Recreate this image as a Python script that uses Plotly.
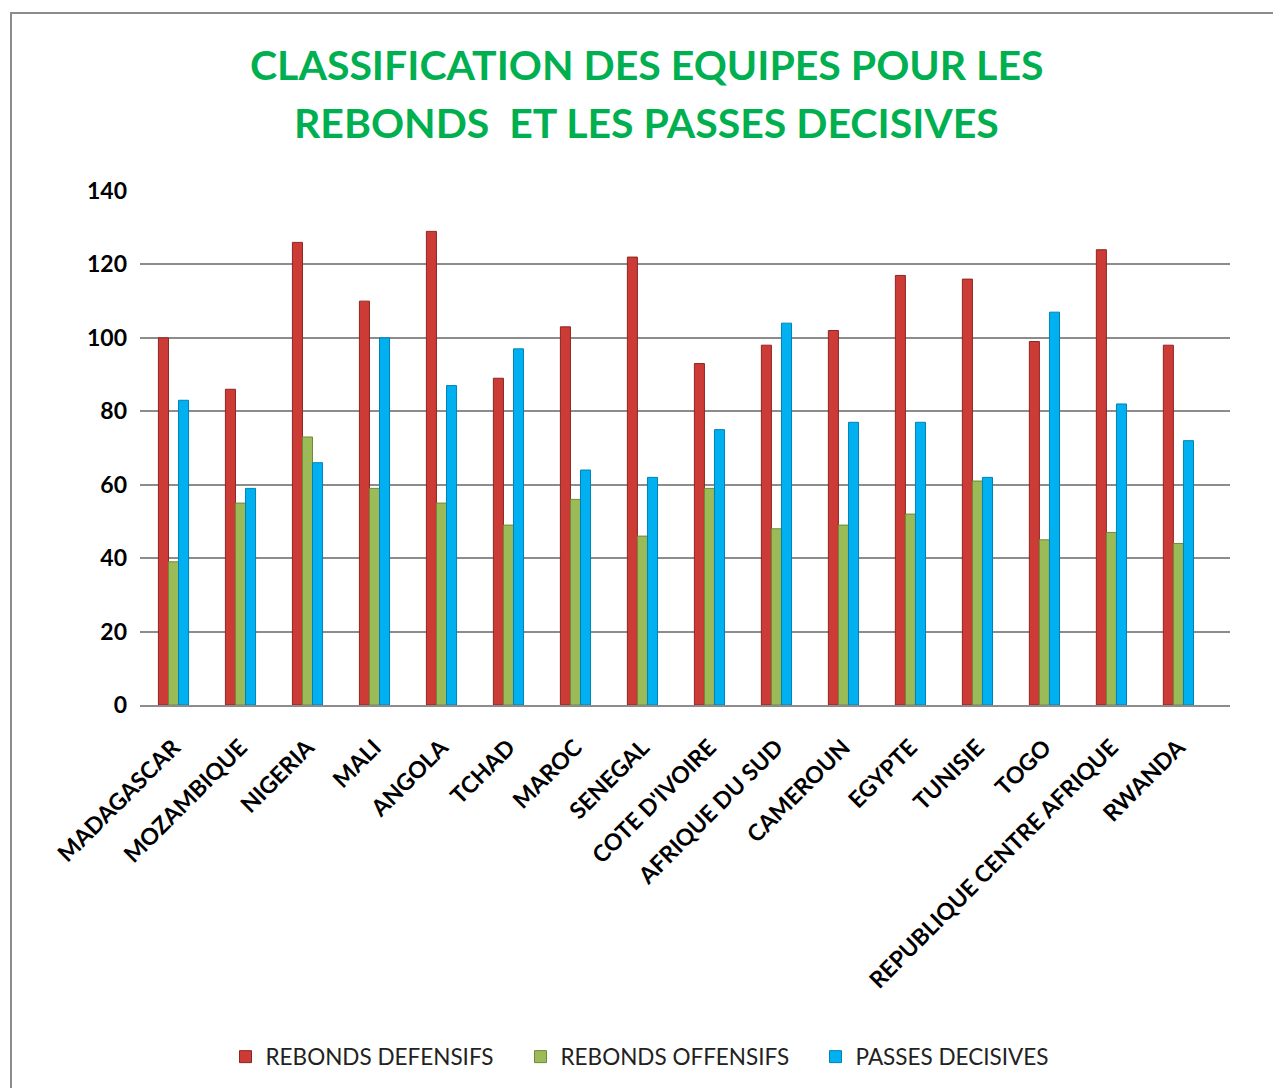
import plotly.graph_objects as go

countries = ["MADAGASCAR", "MOZAMBIQUE", "NIGERIA", "MALI", "ANGOLA", "TCHAD", "MAROC",
             "SENEGAL", "COTE D'IVOIRE", "AFRIQUE DU SUD", "CAMEROUN", "EGYPTE", "TUNISIE",
             "TOGO", "REPUBLIQUE CENTRE AFRIQUE", "RWANDA"]
rebonds_defensifs = [100, 86, 126, 110, 129, 89, 103, 122, 93, 98, 102, 117, 116, 99, 124, 98]
rebonds_offensifs = [39, 55, 73, 59, 55, 49, 56, 46, 59, 48, 49, 52, 61, 45, 47, 44]
passes_decisives = [83, 59, 66, 100, 87, 97, 64, 62, 75, 104, 77, 77, 62, 107, 82, 72]

series = [
    ("REBONDS DEFENSIFS", rebonds_defensifs, "#CD3B36", "#8E2521"),
    ("REBONDS OFFENSIFS", rebonds_offensifs, "#9BBB59", "#6E8A37"),
    ("PASSES DECISIVES", passes_decisives, "#00B0F0", "#0083B3"),
]

W, H = 1273, 1088
L, R, T, B = 140, 43, 191, 383

fig = go.Figure()
for name, vals, col, edge in series:
    fig.add_trace(go.Bar(
        x=countries, y=vals, name=name,
        marker=dict(color=col, line=dict(color=edge, width=1)),
    ))

pw = W - L - R
ph = H - T - B

def px_x(x):
    return (x - L) / pw

def px_y(y):
    return (H - B - y) / ph

title_font = dict(family="Lato, Open Sans, sans-serif", size=41, color="#00B050")
fig.add_annotation(text="<b>CLASSIFICATION DES EQUIPES POUR LES</b>", x=px_x(646), y=px_y(65),
                   xref="paper", yref="paper", showarrow=False, font=title_font,
                   xanchor="center", yanchor="middle")
fig.add_annotation(text="<b>REBONDS  ET LES PASSES DECISIVES</b>", x=px_x(646), y=px_y(122),
                   xref="paper", yref="paper", showarrow=False, font=title_font,
                   xanchor="center", yanchor="middle")

# outer border
fig.add_shape(type="rect", xref="paper", yref="paper",
              x0=px_x(11), x1=px_x(1290), y0=px_y(1100), y1=px_y(13),
              line=dict(color="#8C8C8C", width=2), fillcolor="rgba(0,0,0,0)", layer="below")

fig.update_layout(
    width=W, height=H,
    margin=dict(l=L, r=R, t=T, b=B, autoexpand=False),
    paper_bgcolor="white", plot_bgcolor="white",
    barmode="group", bargap=0.55, bargroupgap=0,
    font=dict(family="Lato, Open Sans, sans-serif", color="#000000"),
    showlegend=True,
    legend=dict(orientation="h", x=px_x(668), y=px_y(1057), xanchor="center", yanchor="middle",
                font=dict(size=22.5, color="#222222"), itemwidth=30, tracegroupgap=0,
                entrywidth=250, entrywidthmode="pixels"),
    xaxis=dict(tickangle=-45, tickfont=dict(size=23, color="#000000", family="Lato, sans-serif", weight="bold"),
               showline=True, linecolor="#8C8C8C", linewidth=2, ticks="", showgrid=False,
               ticklabelstandoff=18, range=[-0.5, 15.77]),
    yaxis=dict(range=[0, 140], dtick=20, showgrid=True, gridcolor="#8C8C8C", gridwidth=2,
               tickfont=dict(size=23, color="#000000", family="Lato, sans-serif", weight="bold"),
               ticklabelstandoff=12, zeroline=False, showline=False),
)

fig.write_html("out.html", config={"displayModeBar": False},
               post_script="document.body.style.margin='0';document.body.style.overflow='hidden';")
